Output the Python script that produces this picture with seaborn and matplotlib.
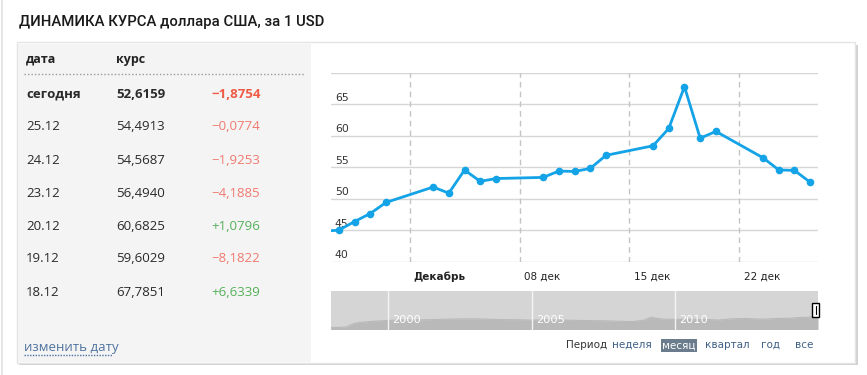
import pandas as pd
import numpy as np
import matplotlib
matplotlib.use('Agg')
import matplotlib.pyplot as plt
import matplotlib.dates as mdates
from matplotlib.patches import Rectangle
import seaborn as sns

# курс доллара по дням (Nov 25 is just off the left edge)
dates = ['2014-11-25', '2014-11-26', '2014-11-27', '2014-11-28', '2014-11-29',
         '2014-12-02', '2014-12-03', '2014-12-04', '2014-12-05', '2014-12-06',
         '2014-12-09', '2014-12-10', '2014-12-11', '2014-12-12', '2014-12-13',
         '2014-12-16', '2014-12-17', '2014-12-18', '2014-12-19', '2014-12-20',
         '2014-12-23', '2014-12-24', '2014-12-25', '2014-12-26']
rates = [44.85, 45.00, 46.38, 47.65, 49.40,
         51.85, 50.88, 54.55, 52.75, 53.20,
         53.38, 54.38, 54.33, 54.80, 56.88,
         58.40, 61.1512, 67.7851, 59.6029, 60.6825,
         56.4940, 54.5687, 54.4913, 52.6159]

tick_dates = ['2014-12-01', '2014-12-08', '2014-12-15', '2014-12-22']
tick_labels = ['Декабрь', '08 дек', '15 дек', '22 дек']
y_ticks = [40, 45, 50, 55, 60, 65, 70]

# table on the left
tbl_dates = ['сегодня', '25.12', '24.12', '23.12', '20.12', '19.12', '18.12']
tbl_rates = ['52,6159', '54,4913', '54,5687', '56,4940', '60,6825', '59,6029', '67,7851']
tbl_changes = ['−1,8754', '−0,0774', '−1,9253', '−4,1885', '+1,0796', '−8,1822', '+6,6339']

# navigator: long history (rough reading)
nav_years = [1998.0, 1998.3, 1998.55, 1998.75, 1999.0, 1999.5, 2000.0, 2000.5, 2001.0,
             2001.5, 2002.0, 2002.5, 2003.0, 2003.5, 2004.0, 2004.5, 2005.0, 2005.5,
             2006.0, 2006.5, 2007.0, 2007.5, 2008.0, 2008.5, 2008.9, 2009.15, 2009.5,
             2010.0, 2010.5, 2011.0, 2011.5, 2012.0, 2012.5, 2013.0, 2013.5, 2014.0,
             2014.3, 2014.6, 2014.85, 2014.97]
nav_values = [5.96, 6.1, 7.9, 16.0, 21.0, 24.5, 27.0, 28.2, 28.5,
              29.2, 30.5, 31.4, 31.8, 30.5, 29.2, 29.0, 27.8, 28.6,
              28.2, 27.0, 26.4, 25.8, 24.5, 23.4, 27.5, 36.0, 31.0,
              30.0, 30.5, 30.0, 28.0, 32.0, 32.5, 30.5, 32.5, 33.5,
              35.5, 36.0, 39.0, 40.0]
nav_ticks = [2000, 2005, 2010]

periods = ['неделя', 'месяц', 'квартал', 'год', 'все']

sns.set_theme(style='white')
plt.rcParams['font.family'] = ['DejaVu Sans']

W, H = 867, 375
fig = plt.figure(figsize=(W / 100, H / 100), dpi=100)


def fx(x):
    return x / W


def fy(y):
    return 1 - y / H


# faint strip at the very left
fig.add_artist(Rectangle((fx(1), 0), fx(2), 1, transform=fig.transFigure,
                         facecolor='#e6e6e6', edgecolor='none', zorder=-3))

fig.text(fx(19), fy(22), 'ДИНАМИКА КУРСА доллара США, за 1 USD', fontsize=10.7,
         family=['Roboto', 'DejaVu Sans'], fontweight='medium', color='#1a1a1a',
         va='center', ha='left')

# card + shadow
fig.add_artist(Rectangle((fx(19), fy(365)), fx(839), fy(45) - fy(365), transform=fig.transFigure,
                         facecolor='#d2d2d2', edgecolor='none', zorder=-3))
fig.add_artist(Rectangle((fx(17), fy(363)), fx(838), fy(42) - fy(363), transform=fig.transFigure,
                         facecolor='white', edgecolor='#e4e4e4', linewidth=1, zorder=-2))
fig.add_artist(Rectangle((fx(18), fy(362)), fx(293), fy(44) - fy(362), transform=fig.transFigure,
                         facecolor='#f4f4f4', edgecolor='none', zorder=-1))

tfont = ['Open Sans', 'DejaVu Sans']
fig.text(fx(26), fy(59), 'дата', fontsize=9, fontweight='bold', family=tfont, color='#222', va='center')
fig.text(fx(116), fy(59), 'курс', fontsize=9, fontweight='bold', family=tfont, color='#222', va='center')
fig.add_artist(plt.Line2D([fx(24), fx(305)], [fy(74), fy(74)], transform=fig.transFigure,
                          color='#9a9a9a', linewidth=1, linestyle=(0, (1, 1.5))))

row_y = 94
for i in range(len(tbl_dates)):
    y = fy(row_y + i * 33)
    bold = 'bold' if i == 0 else 'normal'
    ch = tbl_changes[i]
    if ch.startswith('+'):
        col = '#55b05a'
    else:
        col = '#ee5a45' if i == 0 else '#f07a70'
    fig.text(fx(26), y, tbl_dates[i], fontsize=9.5, fontweight=bold, family=tfont, color='#2a2a2a', va='center')
    fig.text(fx(116), y, tbl_rates[i], fontsize=9.5, fontweight=bold, family=tfont, color='#2a2a2a', va='center')
    fig.text(fx(211), y, ch, fontsize=9.5, fontweight=bold, family=tfont, color=col, va='center')

fig.text(fx(24), fy(347), 'изменить дату', fontsize=9.5, family=tfont, color='#4f73a0', va='center')
fig.add_artist(plt.Line2D([fx(24), fx(112)], [fy(355), fy(355)], transform=fig.transFigure,
                          color='#4f73a0', linewidth=1, linestyle=(0, (1, 1))))

# main chart
df = pd.DataFrame({'date': pd.to_datetime(dates) + pd.Timedelta(hours=12), 'rate': rates})
ax = fig.add_axes([fx(331), fy(261.7), fx(487), fy(72.7) - fy(261.7)])
ax.set_facecolor('none')
for v in y_ticks:
    ax.axhline(v, color='#d6d6d6', linewidth=1, zorder=1)
ticks = pd.to_datetime(tick_dates)
for t in ticks:
    ax.axvline(t, color='#c4c4c4', linewidth=1, linestyle=(0, (4, 3)), zorder=1)

sns.lineplot(data=df, x='date', y='rate', ax=ax, color='#14a3e6', linewidth=2,
             marker='o', markersize=5.5, markeredgewidth=0, zorder=3)

ax.set_xlim(pd.Timestamp('2014-11-26'), pd.Timestamp('2014-12-27'))
ax.set_ylim(40, 70)
ax.set_xticks([])
ax.set_yticks([])
ax.set_xlabel('')
ax.set_ylabel('')
for s in ax.spines.values():
    s.set_visible(False)

for v in y_ticks[:-1]:
    ax.text(0.008, v + 0.25, str(v), transform=ax.get_yaxis_transform(), fontsize=7.8,
            color='#333', ha='left', va='bottom', zorder=2)
for t, lab in zip(ticks, tick_labels):
    ax.annotate(lab, xy=(mdates.date2num(t), 0), xycoords=ax.get_xaxis_transform(),
                xytext=(3, -11), textcoords='offset points', fontsize=7.5, color='#222',
                fontweight='bold' if lab == 'Декабрь' else 'normal', ha='left', va='center')

# navigator
nav = pd.DataFrame({'year': nav_years, 'value': nav_values})
nx = fig.add_axes([fx(331), fy(329.5), fx(487), fy(290.7) - fy(329.5)])
nx.set_facecolor('#d5d5d5')
nx.fill_between(nav['year'], nav['value'], color='#b9b9b9', linewidth=0)
sns.lineplot(data=nav, x='year', y='value', ax=nx, color='#b9b9b9', linewidth=0.8)
nx.set_xlim(1998.0, 2014.97)
nx.set_ylim(0, 115)
for yv in nav_ticks:
    nx.axvline(yv, color='#f4f4f4', linewidth=1)
    nx.annotate(str(yv), xy=(yv, 0), xycoords=nx.get_xaxis_transform(), xytext=(3, 3),
                textcoords='offset points', fontsize=8.2, color='white', ha='left', va='bottom')
nx.set_xticks([])
nx.set_yticks([])
nx.set_xlabel('')
nx.set_ylabel('')
for s in nx.spines.values():
    s.set_visible(False)
nx.add_patch(Rectangle((0.988, 0.32), 0.014, 0.36, transform=nx.transAxes, facecolor='white',
                       edgecolor='black', linewidth=1, clip_on=False, zorder=5))
nx.plot([0.995, 0.995], [0.4, 0.6], transform=nx.transAxes, color='black', linewidth=0.8,
        clip_on=False, zorder=6)

# period selector
fig.text(fx(587), fy(345), 'Период', fontsize=7.5, color='#333', ha='center', va='center')
px = [632, 679, 727, 771, 804]
for p, x in zip(periods, px):
    if p == 'месяц':
        fig.add_artist(Rectangle((fx(660.5), fy(351.5)), fx(36.5), fy(339.3) - fy(351.5),
                                 transform=fig.transFigure, facecolor='#6b7c8c', edgecolor='none'))
        fig.text(fx(x), fy(345.5), p, fontsize=7.5, color='white', ha='center', va='center')
    else:
        fig.text(fx(x), fy(345), p, fontsize=7.5, color='#3f6088', ha='center', va='center')

fig.savefig('out.png', dpi=100)
